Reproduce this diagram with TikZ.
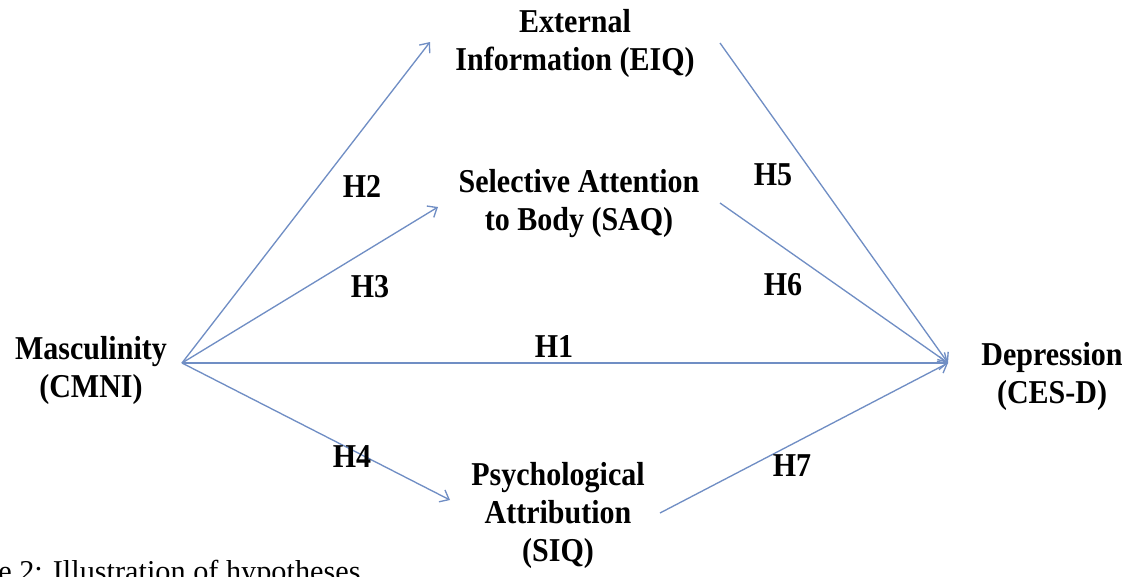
\documentclass[tikz,border=0pt]{standalone}
\usepackage{fontspec}
\setmainfont{Liberation Serif}
\newfontfamily\varfont[FakeStretch=0.9]{Liberation Serif}
\usetikzlibrary{arrows.meta}
\definecolor{freccia}{RGB}{112,142,196}

\begin{document}
\begin{tikzpicture}[x=0.75pt, y=-0.75pt,
    var/.style={font=\varfont\fontsize{25}{28.5}\selectfont\bfseries, align=center, inner sep=0pt},
    ipotesi/.style={font=\varfont\fontsize{25}{28.5}\selectfont\bfseries, inner sep=0pt},
    freccia/.style={draw=freccia, line width=1pt, -{Straight Barb[length=6pt, width=10pt]}}]
    \useasboundingbox (0,0) rectangle (1137,576);
    % Variabili
    \node[var] (masc) at (91,370) {Masculinity\\(CMNI)};
    \node[var] (dep) at (1052,376) {Depression\\(CES-D)};
    \node[var] (eiq) at (575,43) {External\\Information (EIQ)};
    \node[var] (saq) at (579,204) {Selective Attention\\to Body (SAQ)};
    \node[var] (siq) at (558,515) {Psychological\\Attribution\\(SIQ)};
    % Punti di attacco
    \coordinate (m) at (182,363);
    \coordinate (d) at (948,363);
    \coordinate (eiqin) at (430,42);
    \coordinate (saqin) at (438,207);
    \coordinate (siqin) at (450,500);
    \coordinate (eiqout) at (720,43);
    \coordinate (saqout) at (720,203);
    \coordinate (siqout) at (660,513);
    % Frecce
    \draw[freccia] (m) -- (eiqin);
    \draw[freccia] (m) -- (saqin);
    \draw[freccia] (m) -- (d);
    \draw[freccia] (m) -- (siqin);
    \draw[freccia] (eiqout) -- (d);
    \draw[freccia] (saqout) -- (d);
    \draw[freccia] (siqout) -- (d);
    % Ipotesi
    \node[ipotesi] (h1) at (554,346) {H1};
    \node[ipotesi] (h2) at (362,186) {H2};
    \node[ipotesi] (h3) at (370,287) {H3};
    \node[ipotesi] (h4) at (352,457) {H4};
    \node[ipotesi] (h5) at (773,175) {H5};
    \node[ipotesi] (h6) at (783,285) {H6};
    \node[ipotesi] (h7) at (792,466) {H7};
    % Didascalia
    \node[font=\fontsize{22.7}{27}\selectfont, anchor=base west, inner sep=0pt] (cap) at (-2,581) {e 2: Illustration of hypotheses};
\end{tikzpicture}
\end{document}
